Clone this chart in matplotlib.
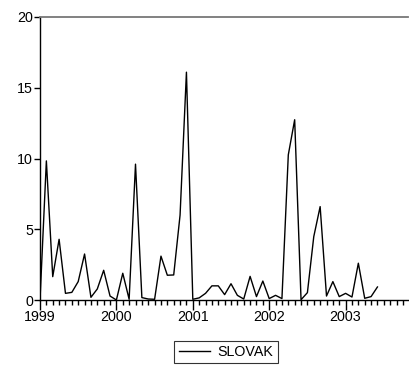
import numpy as np
import matplotlib.pyplot as plt
from matplotlib.ticker import MultipleLocator

plt.rcParams['font.family'] = ['Liberation Sans', 'DejaVu Sans']
plt.rcParams['font.size'] = 10.3

# monthly values, Jan 1999 .. Jun 2003
slovak = [0.0, 9.83, 1.65, 4.29, 0.47, 0.54, 1.3, 3.25, 0.19, 0.78, 2.1, 0.28,
          0.0, 1.89, 0.05, 9.6, 0.17, 0.07, 0.05, 3.1, 1.75, 1.77, 6.0, 16.1,
          0.05, 0.15, 0.47, 1.0, 1.0, 0.38, 1.15, 0.33, 0.07, 1.67, 0.24, 1.34,
          0.1, 0.33, 0.1, 10.26, 12.74, 0.02, 0.52, 4.48, 6.6, 0.28, 1.3, 0.24,
          0.47, 0.21, 2.6, 0.12, 0.24, 0.92]
years = [1999, 2000, 2001, 2002, 2003]

months = np.arange(len(slovak))

fig = plt.figure(figsize=(4.09, 3.67), dpi=100)
ax = fig.add_axes([40/409, 1 - 300/367, 368/409, 283/367])

ax.plot(months, slovak, color='black', lw=1.0, label='SLOVAK')

ax.set_xlim(0, 57.8)
ax.set_ylim(0, 20)
ax.set_xticks([12*i for i in range(len(years))])
ax.set_xticklabels([str(y) for y in years])
ax.xaxis.set_minor_locator(MultipleLocator(1))
ax.set_yticks([0, 5, 10, 15, 20])

ax.spines['right'].set_visible(False)
ax.spines['top'].set_color('#777777')
ax.spines['top'].set_linewidth(1.3)
ax.spines['left'].set_linewidth(1.0)
ax.spines['bottom'].set_linewidth(1.0)

ax.tick_params(axis='x', which='major', direction='out', length=7, width=1, pad=0)
ax.tick_params(axis='x', which='minor', direction='out', length=3.5, width=1)
ax.tick_params(axis='y', which='major', direction='out', length=4, width=1, pad=1)

fig.legend(loc='center', bbox_to_anchor=(226/409, 1 - 352/367), frameon=True,
           fancybox=False, edgecolor='black', handlelength=2.2, borderpad=0.3,
           handletextpad=0.5, borderaxespad=0)
leg = fig.legends[0]
leg.get_frame().set_linewidth(0.8)

fig.savefig('out.png', dpi=100)
